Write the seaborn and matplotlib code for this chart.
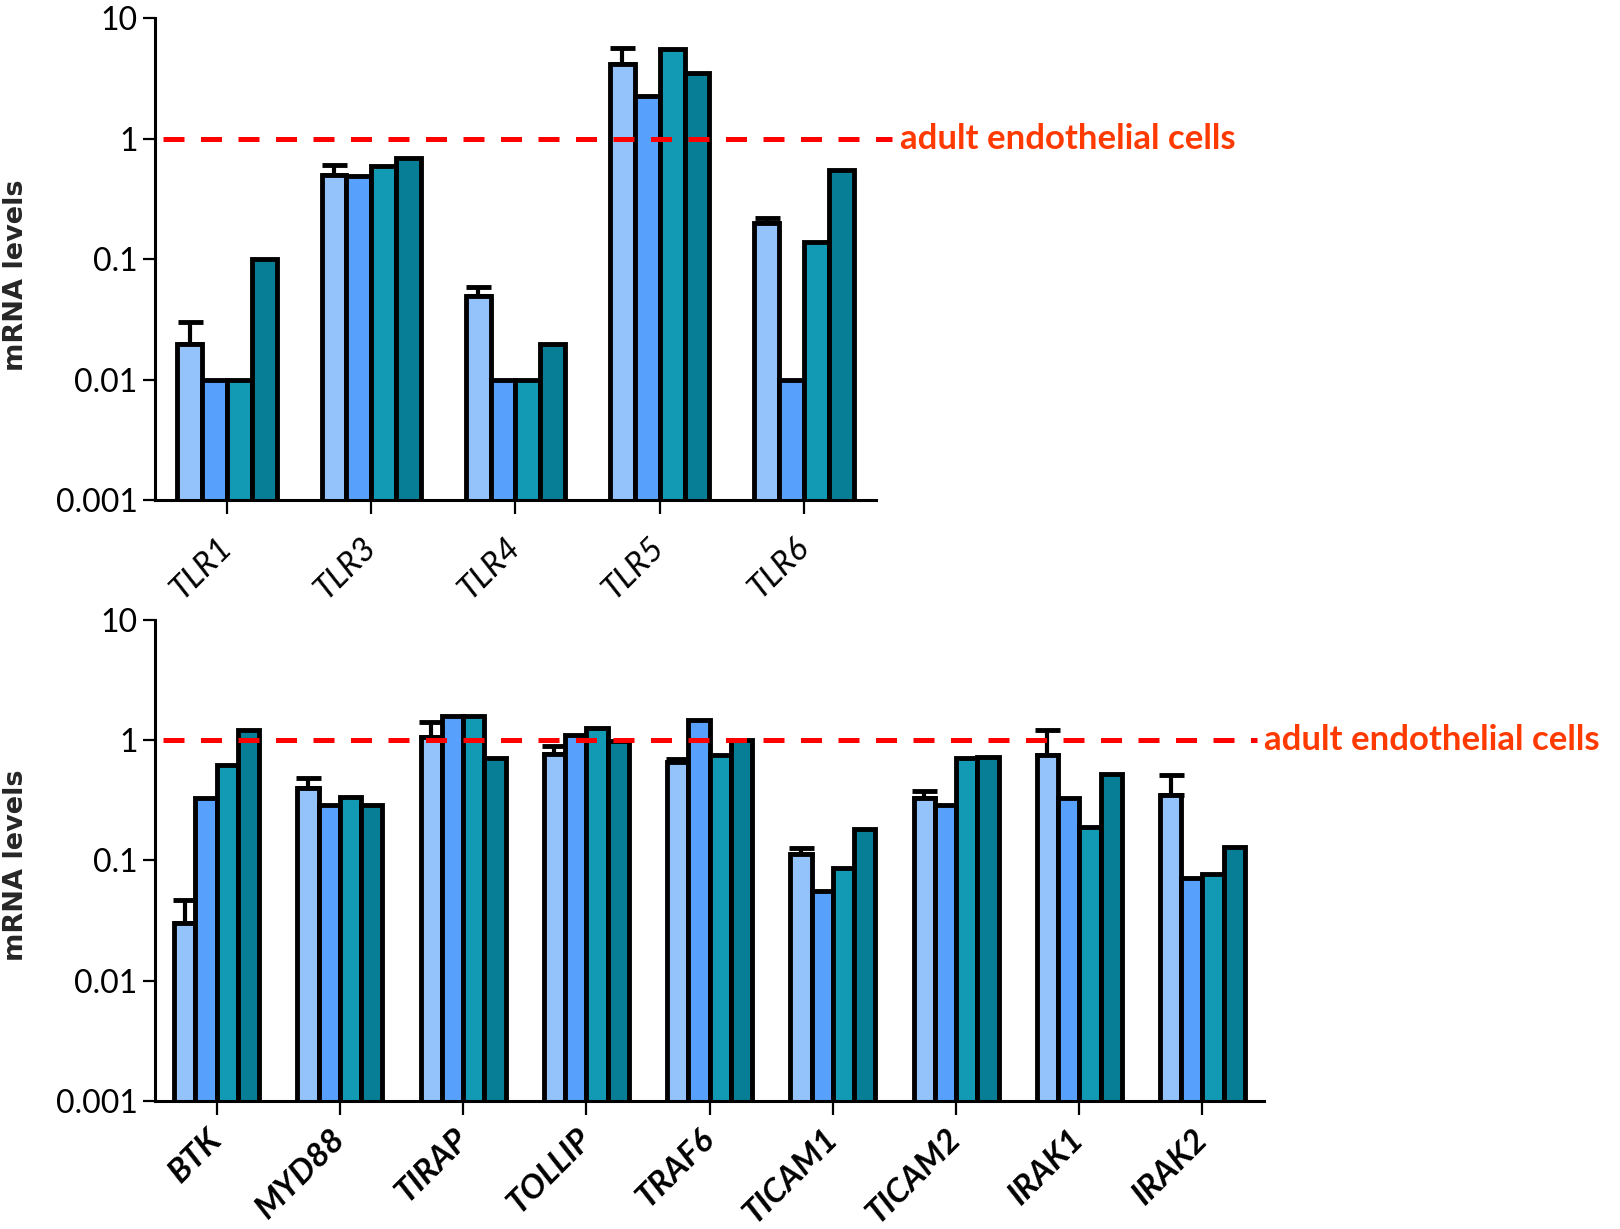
import numpy as np
import pandas as pd
import matplotlib
matplotlib.use("Agg")
import matplotlib.pyplot as plt
import matplotlib.transforms as mtransforms
import seaborn as sns

# Toll-like receptors (upper panel)
tlr_genes = ["TLR1", "TLR3", "TLR4", "TLR5", "TLR6"]
tlr_s1 = [0.02, 0.50, 0.05, 4.15, 0.20]
tlr_s2 = [0.01, 0.49, 0.01, 2.25, 0.01]
tlr_s3 = [0.01, 0.60, 0.01, 5.60, 0.14]
tlr_s4 = [0.10, 0.69, 0.02, 3.55, 0.55]
tlr_s1_upper = [0.03, 0.61, 0.059, 5.70, 0.22]

# Adaptors and kinases (lower panel)
sig_genes = ["BTK", "MYD88", "TIRAP", "TOLLIP", "TRAF6",
             "TICAM1", "TICAM2", "IRAK1", "IRAK2"]
sig_s1 = [0.030, 0.40, 1.06, 0.77, 0.66, 0.114, 0.33, 0.76, 0.35]
sig_s2 = [0.33, 0.29, 1.60, 1.10, 1.46, 0.056, 0.29, 0.33, 0.071]
sig_s3 = [0.62, 0.34, 1.60, 1.27, 0.76, 0.086, 0.71, 0.19, 0.077]
sig_s4 = [1.22, 0.29, 0.71, 0.98, 1.00, 0.183, 0.73, 0.52, 0.13]
sig_s1_upper = [0.047, 0.49, 1.43, 0.89, 0.70, 0.128, 0.38, 1.22, 0.51]

series_names = ["s1", "s2", "s3", "s4"]
palette = ["#94C2FA", "#57A1FC", "#1299B4", "#087E96"]

reference_level = 1.0
reference_label = "adult endothelial cells"
y_ticks = [0.001, 0.01, 0.1, 1, 10]
y_ticklabels = ["0.001", "0.01", "0.1", "1", "10"]


def long_table(genes, cols):
    rows = []
    for name, vals in zip(series_names, cols):
        for g, v in zip(genes, vals):
            rows.append({"gene": g, "series": name, "value": v})
    return pd.DataFrame(rows)


sns.set_theme(style="white")
plt.rcParams["font.family"] = ["Lato", "DejaVu Sans"]

fig = plt.figure(figsize=(16.2, 12.29), dpi=100)
ax_top = fig.add_axes([0.0957, 0.593, 0.445, 0.392])
ax_bot = fig.add_axes([0.0957, 0.1042, 0.6846, 0.3913])


def draw_panel(ax, genes, cols, upper, label_style, line_span, text_x):
    df = long_table(genes, cols)
    sns.barplot(data=df, x="gene", y="value", hue="series",
                hue_order=series_names, palette=palette, order=genes,
                width=0.69, gap=0, errorbar=None, edgecolor="black",
                linewidth=3.5, saturation=1, legend=False, ax=ax, zorder=2)
    ax.set_yscale("log")
    ax.set_ylim(0.001, 10)
    ax.set_xlim(-0.5, len(genes) - 0.5)
    ax.yaxis.set_minor_locator(matplotlib.ticker.NullLocator())
    ax.set_yticks(y_ticks)
    ax.set_yticklabels(y_ticklabels, fontsize=23)

    # upper error bars on the first series
    bars = ax.containers[0]
    xs = [b.get_x() + b.get_width() / 2 for b in bars]
    vals = np.array(cols[0])
    err = np.array(upper) - vals
    ax.errorbar(xs, vals, yerr=[np.zeros_like(err), err], fmt="none",
                ecolor="black", elinewidth=3, capsize=9, capthick=3.5,
                zorder=1)

    # reference level line extending past the axes
    ax.axhline(reference_level, xmin=line_span[0], xmax=line_span[1],
               color="#FF0000", linewidth=3.6, dashes=(4.2, 3.3),
               clip_on=False, zorder=3)
    ax.text(text_x, reference_level, reference_label,
            transform=mtransforms.blended_transform_factory(ax.transAxes, ax.transData),
            color="#FF3A00", fontsize=25, fontweight="bold",
            va="center", ha="left", clip_on=False)

    ax.set_xlabel("")
    ax.set_ylabel("mRNA levels", fontsize=19.5, fontweight="bold",
                  family="DejaVu Sans")
    for lab in ax.get_xticklabels():
        lab.set_rotation(45)
        lab.set_ha("right")
        lab.set_va("center")
        lab.set_rotation_mode("anchor")
        lab.set_fontsize(label_style["size"])
        lab.set_fontstyle("italic")
        lab.set_fontweight(label_style["weight"])

    sns.despine(ax=ax)
    for s in ["left", "bottom"]:
        ax.spines[s].set_linewidth(2.2)
        ax.spines[s].set_color("black")
    ax.tick_params(axis="y", which="major", left=True, length=8.5, width=1.6,
                   pad=4, colors="black")
    ax.tick_params(axis="x", which="major", bottom=True, length=10, width=1.6,
                   pad=label_style["pad"], colors="black")


draw_panel(ax_top, tlr_genes, [tlr_s1, tlr_s2, tlr_s3, tlr_s4], tlr_s1_upper,
           {"size": 24, "weight": "normal", "pad": 21}, (0.011, 1.022), 1.033)
draw_panel(ax_bot, sig_genes, [sig_s1, sig_s2, sig_s3, sig_s4], sig_s1_upper,
           {"size": 24, "weight": "bold", "pad": 14}, (0.007, 0.994), 0.9995)

ax_top.yaxis.set_label_coords(-0.175, 0.466)
ax_bot.yaxis.set_label_coords(-0.1136, 0.49)

fig.savefig("out.png", dpi=100)
